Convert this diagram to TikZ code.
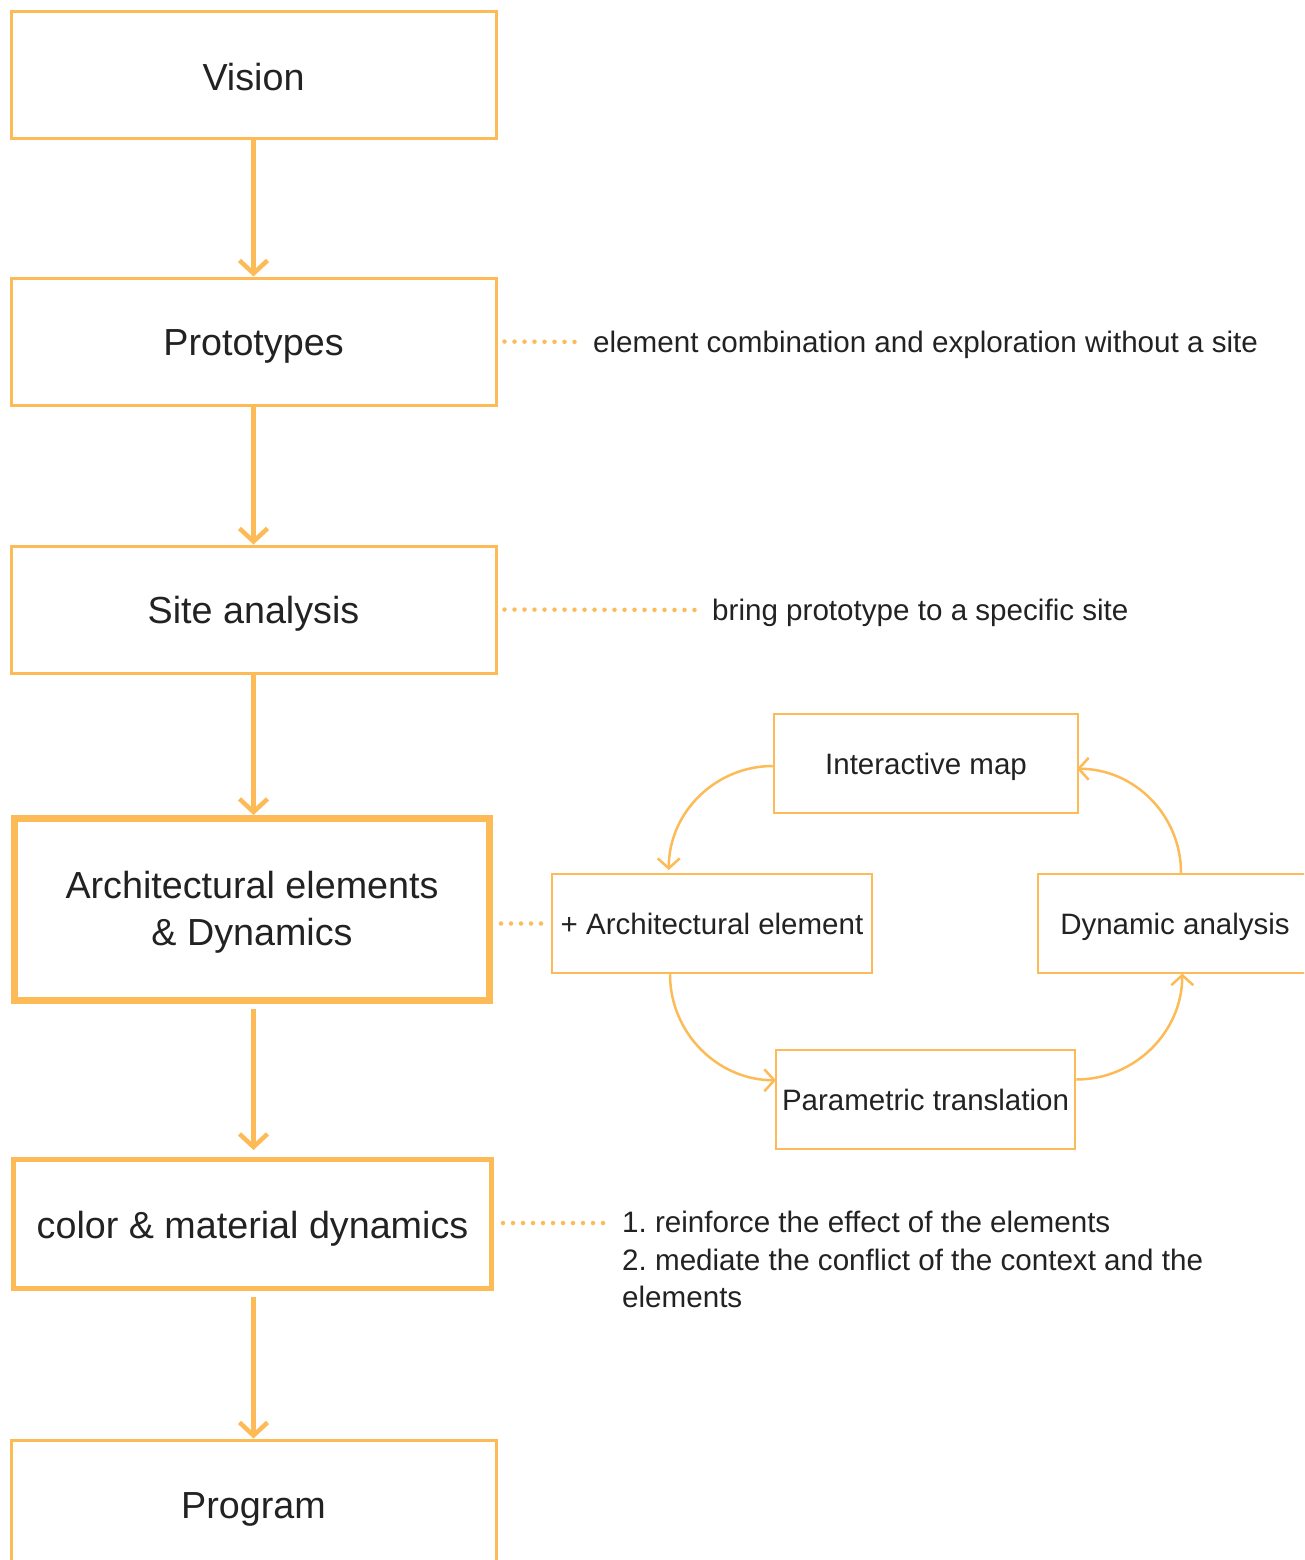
\documentclass[tikz,border=0pt]{standalone}
\usepackage{fontspec}
\setmainfont{Liberation Sans}
\frenchspacing
\usetikzlibrary{arrows.meta}
\definecolor{org}{RGB}{253,187,88}
\definecolor{ink}{RGB}{34,34,34}
\tikzset{
  mainbox/.style={draw=org, line width=3pt, minimum width=485pt, minimum height=127pt, inner sep=0pt},
  maintext/.style={inner sep=0pt, text=ink, font=\fontsize{37.7pt}{47pt}\selectfont, text height=27pt, text depth=0pt},
  smallbox/.style={draw=org, line width=2.5pt, minimum height=99pt, inner sep=0pt, text=ink, font=\fontsize{29.5pt}{34pt}\selectfont, text height=21pt, text depth=0pt},
  note/.style={inner sep=0pt, text=ink, font=\fontsize{29.6pt}{37.5pt}\selectfont, align=left},
  mainarrow/.style={draw=org, line width=4.5pt, -{Straight Barb[length=13pt,width=28pt,line width=4.5pt]}},
  cyclearrow/.style={draw=org, line width=2.5pt, -{Straight Barb[length=10pt,width=22pt,line width=2.5pt]}},
  dotline/.style={draw=org, line width=4.5pt, line cap=round, dash pattern=on 0pt off 10pt},
}
\begin{document}
\begin{tikzpicture}[x=1pt,y=-1pt]
\useasboundingbox (0,0) rectangle (1304,1560);
\clip (0,0) rectangle (1304,1560);
\node[mainbox] (vision) at (253.5,75.5) {};
\node[maintext] (visiont) at (253.5,77) {Vision};
\node[mainbox] (proto) at (253.5,341.5) {};
\node[maintext] (protot) at (253.5,342) {Prototypes};
\node[mainbox] (site) at (253.5,609.5) {};
\node[maintext] (sitet) at (253.5,610) {Site analysis};
\node[mainbox, line width=7pt, minimum width=475pt, minimum height=182pt] (arch) at (252,909.5) {};
\node[inner sep=0pt, text=ink, font=\fontsize{37.7pt}{47pt}\selectfont, align=center] (archt) at (252,912) {Architectural elements\\\& Dynamics};
\node[mainbox, line width=5pt, minimum width=478pt, minimum height=129pt] (color) at (252.5,1224) {};
\node[maintext] (colort) at (252.5,1225) {color \& material dynamics};
\node[mainbox] (prog) at (253.5,1503.5) {};
\node[maintext] (progt) at (253.5,1505) {Program};

\draw[mainarrow] (vision.south) -- (vision.south |- proto.north);
\draw[mainarrow] (proto.south) -- (proto.south |- site.north);
\draw[mainarrow] (site.south) -- (site.south |- arch.north);
\draw[mainarrow, shorten <=5pt, shorten >=7pt] (arch.south -| site.south) -- (site.south |- color.north);
\draw[mainarrow, shorten <=6pt] (color.south -| site.south) -- (site.south |- prog.north);

\node[note, anchor=west, text height=21pt, text depth=0pt] (n1) at (593,342) {element combination and exploration without a site};
\node[note, anchor=west, text height=21pt, text depth=0pt] (n2) at (712,610) {bring prototype to a specific site};
\node[note, anchor=west] (n3) at (622,1259.5) {1. reinforce the effect of the elements\\2. mediate the conflict of the context and the\\elements};
\coordinate (n3a) at (611,1223);

\draw[dotline, shorten <=7pt, shorten >=13pt] (proto.east) -- (n1.west);
\draw[dotline, shorten <=7pt, shorten >=12pt] (site.east) -- (n2.west);
\draw[dotline] (503,1223) -- (n3a);

\node[smallbox, minimum width=304pt] (map) at (926,763.5) {Interactive map};
\node[smallbox, minimum width=320pt] (ae) at (712,923.5) {+ Architectural element};
\node[smallbox, minimum width=274pt] (dyn) at (1175,923.5) {Dynamic analysis};
\node[smallbox, minimum width=299pt] (par) at (925.5,1099.5) {Parametric translation};

\draw[dotline, shorten <=8pt, shorten >=4pt] (ae.west -| arch.east) -- (ae.west);

\draw[cyclearrow] ([yshift=-2.5pt]map.west) arc[start angle=90, end angle=180, radius=104pt];
\draw[cyclearrow] ([xshift=-42pt]ae.south) arc[start angle=180, end angle=270, radius=106pt];
\draw[cyclearrow] ([yshift=20pt]par.east) arc[start angle=270, end angle=360, radius=106pt];
\draw[cyclearrow] ([xshift=6pt]dyn.north) arc[start angle=0, end angle=90, radius=104pt];
\end{tikzpicture}
\end{document}
